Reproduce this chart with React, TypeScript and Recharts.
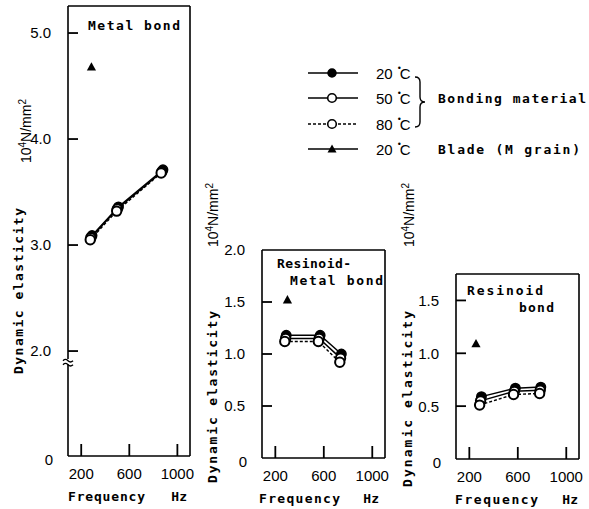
import React from 'react';
import { ComposedChart, Line, XAxis, YAxis, ReferenceLine, ReferenceDot } from 'recharts';

// ---------------- data ----------------
const freqTicks = [200, 600, 1000];

// Metal bond
const mbFreq20 = [290, 510, 880];
const mbFreq50 = [280, 500, 870];
const mbFreq80 = [275, 495, 865];
const mbE20 = [3.09, 3.36, 3.71];
const mbE50 = [3.07, 3.34, 3.69];
const mbE80 = [3.05, 3.32, 3.68];
const mbBladeFreq = [285];
const mbBladeE = [4.68];
const mbYTicks = [0, 2.0, 3.0, 4.0, 5.0];

// Resinoid-Metal bond
const rmFreq20 = [290, 570, 745];
const rmFreq50 = [285, 562, 738];
const rmFreq80 = [278, 555, 732];
const rmE20 = [1.18, 1.18, 1.0];
const rmE50 = [1.15, 1.15, 0.96];
const rmE80 = [1.12, 1.12, 0.92];
const rmBladeFreq = [300];
const rmBladeE = [1.52];
const rmYTicks = [0, 0.5, 1.0, 1.5, 2.0];

// Resinoid bond
const rbFreq20 = [300, 580, 790];
const rbFreq50 = [293, 572, 785];
const rbFreq80 = [285, 565, 780];
const rbE20 = [0.59, 0.67, 0.68];
const rbE50 = [0.55, 0.64, 0.65];
const rbE80 = [0.51, 0.61, 0.62];
const rbBladeFreq = [255];
const rbBladeE = [1.09];
const rbYTicks = [0, 0.5, 1.0, 1.5];

// ---------------- styling ----------------
const MONO = '"DejaVu Sans Mono", monospace';
const SANS = '"Liberation Sans", Arial, sans-serif';
const W = 589;
const H = 509;
const YW = 40;
const XH = 40;
const X_DOMAIN: [number, number] = [90, 1105];
const BREAK_BASE = 1.01; // position of "0" on the broken Metal-bond axis
const Y_TICK_PX = 10;
const X_TICK_PX = 12;

const zip = (fs: number[], vs: number[]) => fs.map((f, i) => ({ f, v: vs[i] }));

const fmtY = (v: number) => (v === 0 ? '0' : v.toFixed(1));

const Triangle = (props: any) => {
  const { cx, cy } = props;
  if (cx == null || cy == null) return <g />;
  return (
    <polygon
      points={`${cx},${cy - 4.8} ${cx - 4.6},${cy + 3.6} ${cx + 4.6},${cy + 3.6}`}
      fill="#000"
      stroke="none"
    />
  );
};

const BreakMark = (props: any) => {
  const { cx, cy } = props;
  if (cx == null || cy == null) return <g />;
  return (
    <g fill="none" stroke="#000" strokeWidth={1.4}>
      <path d={`M${cx - 5},${cy - 1} q2.5,-2.5 5,0 t5,0`} />
      <path d={`M${cx - 5},${cy + 3} q2.5,-2.5 5,0 t5,0`} />
    </g>
  );
};

type PanelCfg = {
  left: number;
  right: number;
  top: number;
  bottom: number;
  yDomain: [number, number];
  yTicks: number[];
  broken: boolean;
  s20: { f: number; v: number }[];
  s50: { f: number; v: number }[];
  s80: { f: number; v: number }[];
  blade: { f: number; v: number }[];
  title: { text: string; x: number; y: number; len: number }[];
  dyn: { x: number; y: number; len: number };
  unit: { x: number; y: number };
  freq: { x: number; len: number; hzEnd: number };
};

const panels: PanelCfg[] = [
  {
    left: 68, right: 190, top: 6, bottom: 456,
    yDomain: [BREAK_BASE, 5.255],
    yTicks: mbYTicks,
    broken: true,
    s20: zip(mbFreq20, mbE20),
    s50: zip(mbFreq50, mbE50),
    s80: zip(mbFreq80, mbE80),
    blade: zip(mbBladeFreq, mbBladeE),
    title: [{ text: 'Metal bond', x: 88, y: 30, len: 92 }],
    dyn: { x: 22.5, y: 291, len: 166 },
    unit: { x: 31, y: 131 },
    freq: { x: 68, len: 77, hzEnd: 187 },
  },
  {
    left: 262, right: 385, top: 250, bottom: 458,
    yDomain: [0, 2.0],
    yTicks: rmYTicks,
    broken: false,
    s20: zip(rmFreq20, rmE20),
    s50: zip(rmFreq50, rmE50),
    s80: zip(rmFreq80, rmE80),
    blade: zip(rmBladeFreq, rmBladeE),
    title: [
      { text: 'Resinoid-', x: 277, y: 268, len: 74 },
      { text: 'Metal bond', x: 290, y: 285, len: 93 },
    ],
    dyn: { x: 216.5, y: 397, len: 172 },
    unit: { x: 218, y: 215 },
    freq: { x: 259, len: 81, hzEnd: 379 },
  },
  {
    left: 456, right: 579, top: 274, bottom: 459,
    yDomain: [0, 1.75],
    yTicks: rbYTicks,
    broken: false,
    s20: zip(rbFreq20, rbE20),
    s50: zip(rbFreq50, rbE50),
    s80: zip(rbFreq80, rbE80),
    blade: zip(rbBladeFreq, rbBladeE),
    title: [
      { text: 'Resinoid', x: 467, y: 295, len: 76 },
      { text: 'bond', x: 519, y: 312, len: 35 },
    ],
    dyn: { x: 411.5, y: 399, len: 176 },
    unit: { x: 414, y: 215 },
    freq: { x: 455, len: 83, hzEnd: 578 },
  },
];

function Panel({ cfg }: { cfg: PanelCfg }) {
  const margin = {
    left: cfg.left - YW,
    right: W - cfg.right,
    top: cfg.top,
    bottom: H - cfg.bottom - XH,
  };
  const [lo, hi] = cfg.yDomain;
  const bx0 = X_DOMAIN[0];
  const bx1 = X_DOMAIN[1];
  const tickPos = cfg.yTicks.map((t) => (cfg.broken && t === 0 ? BREAK_BASE : t));

  const yTick = (props: any) => {
    const { x, y, payload } = props;
    const v = payload.value;
    const isBase = v === lo;
    const label = isBase ? '0' : fmtY(v);
    return (
      <g>
        {!isBase && v < hi && (
          <path d={`M${x},${y} h${Y_TICK_PX}`} stroke="#000" strokeWidth={1.8} fill="none" />
        )}
        <text
          x={isBase ? x - 15 : x - 17}
          y={isBase ? y + 4 : y}
          dy="0.36em"
          textAnchor="end"
          fontFamily={SANS}
          fontSize={15}
          fill="#000"
        >
          {label}
        </text>
      </g>
    );
  };

  const xTick = (props: any) => {
    const { x, y, payload } = props;
    return (
      <g>
        <path d={`M${x},${y} v-${X_TICK_PX}`} stroke="#000" strokeWidth={1.8} fill="none" />
        <text x={x} y={y + 23} textAnchor="middle" fontFamily={SANS} fontSize={15} fill="#000">
          {payload.value}
        </text>
      </g>
    );
  };

  const xLabel = () => (
    <g fontFamily={MONO} fontWeight="bold" fontSize={13} fill="#000">
      <text x={cfg.freq.x} y={cfg.bottom + 45} textLength={cfg.freq.len} lengthAdjust="spacing">
        Frequency
      </text>
      <text x={cfg.freq.hzEnd} y={cfg.bottom + 45} textAnchor="end">
        Hz
      </text>
    </g>
  );

  const yLabel = () => (
    <g fill="#000">
      <text
        x={cfg.dyn.x}
        y={cfg.dyn.y}
        transform={`rotate(-90 ${cfg.dyn.x} ${cfg.dyn.y})`}
        textAnchor="middle"
        fontFamily={MONO}
        fontWeight="bold"
        fontSize={13}
        textLength={cfg.dyn.len}
        lengthAdjust="spacing"
      >
        Dynamic elasticity
      </text>
      <text
        x={cfg.unit.x}
        y={cfg.unit.y}
        transform={`rotate(-90 ${cfg.unit.x} ${cfg.unit.y})`}
        textAnchor="middle"
        fontFamily={SANS}
        fontSize={14}
      >
        10<tspan dy={-5} fontSize={10}>4</tspan>
        <tspan dy={5}>N/mm</tspan>
        <tspan dy={-5} fontSize={10}>2</tspan>
      </text>
    </g>
  );

  return (
    <div style={{ position: 'absolute', left: 0, top: 0 }}>
      <ComposedChart width={W} height={H} margin={margin}>
        <XAxis
          dataKey="f"
          type="number"
          domain={X_DOMAIN}
          ticks={freqTicks}
          interval={0}
          tickSize={0}
          tickMargin={0}
          tickLine={false}
          tick={xTick}
          axisLine={{ stroke: '#000', strokeWidth: 1.6 }}
          height={XH}
          label={xLabel}
        />
        <YAxis
          type="number"
          domain={cfg.yDomain}
          ticks={tickPos}
          interval={0}
          tickSize={0}
          tickMargin={0}
          tickLine={false}
          tick={yTick}
          axisLine={false}
          width={YW}
          label={yLabel}
        />
        <ReferenceLine y={hi} stroke="#000" strokeWidth={1.6} ifOverflow="visible" />
        <ReferenceLine x={bx1} stroke="#000" strokeWidth={1.6} ifOverflow="visible" />
        {cfg.broken ? (
          <ReferenceLine
            segment={[{ x: bx0, y: lo }, { x: bx0, y: 1.875 }]}
            stroke="#000"
            strokeWidth={1.6}
            ifOverflow="visible"
          />
        ) : (
          <ReferenceLine x={bx0} stroke="#000" strokeWidth={1.6} ifOverflow="visible" />
        )}
        {cfg.broken && (
          <ReferenceLine
            segment={[{ x: bx0, y: 1.925 }, { x: bx0, y: hi }]}
            stroke="#000"
            strokeWidth={1.6}
            ifOverflow="visible"
          />
        )}
        {cfg.broken && (
          <ReferenceDot x={bx0} y={1.9} r={0} ifOverflow="visible" shape={BreakMark} />
        )}

        <Line
          data={cfg.s20}
          dataKey="v"
          stroke="#000"
          strokeWidth={1.5}
          isAnimationActive={false}
          dot={{ r: 4.7, fill: '#000', stroke: '#000', strokeWidth: 1.5 }}
        />
        <Line
          data={cfg.s50}
          dataKey="v"
          stroke="#000"
          strokeWidth={1.5}
          isAnimationActive={false}
          dot={{ r: 4.7, fill: '#fff', stroke: '#000', strokeWidth: 2 }}
        />
        <Line
          data={cfg.s80}
          dataKey="v"
          stroke="#000"
          strokeWidth={1.4}
          strokeDasharray="3 2"
          isAnimationActive={false}
          dot={{ r: 4.7, fill: '#fff', stroke: '#000', strokeWidth: 2, strokeDasharray: '' }}
        />
        <Line
          data={cfg.blade}
          dataKey="v"
          stroke="none"
          isAnimationActive={false}
          dot={Triangle}
        />
      </ComposedChart>
    </div>
  );
}

function Overlay() {
  const rows = [73, 98, 124, 149];
  return (
    <svg
      width={W}
      height={H}
      style={{ position: 'absolute', left: 0, top: 0, pointerEvents: 'none' }}
    >
      {panels.map((p, i) =>
        p.title.map((t, j) => (
          <text
            key={`t${i}${j}`}
            x={t.x}
            y={t.y}
            fontFamily={MONO}
            fontWeight="bold"
            fontSize={13}
            textLength={t.len}
            lengthAdjust="spacing"
            fill="#000"
          >
            {t.text}
          </text>
        ))
      )}
      <g stroke="#000" strokeWidth={1.5}>
        <line x1={308} x2={358} y1={rows[0]} y2={rows[0]} />
        <circle cx={332} cy={rows[0]} r={4} fill="#000" />
        <line x1={308} x2={358} y1={rows[1]} y2={rows[1]} />
        <circle cx={332} cy={rows[1]} r={4.3} fill="#fff" strokeWidth={1.6} />
        <line x1={308} x2={358} y1={rows[2]} y2={rows[2]} strokeDasharray="3 2" />
        <circle cx={332} cy={rows[2]} r={4.3} fill="#fff" strokeWidth={1.6} />
        <line x1={308} x2={358} y1={rows[3]} y2={rows[3]} />
      </g>
      <polygon
        points={`332,${rows[3] - 4.5} 327.5,${rows[3] + 3.5} 336.5,${rows[3] + 3.5}`}
        fill="#000"
      />
      {['20', '50', '80', '20'].map((t, i) => (
        <text key={`l${i}`} x={376} y={rows[i] + 5.5} fontFamily={SANS} fontSize={15} fill="#000">
          {t}
          <tspan dx={5} dy={-8} fontSize={9}>•</tspan>
          <tspan dx={-1} dy={8}>C</tspan>
        </text>
      ))}
      <path
        d="M415,77 Q420,77 420,82 L420,97 Q420,102 425,102 Q420,102 420,107 L420,122 Q420,127 415,127"
        fill="none"
        stroke="#000"
        strokeWidth={1.4}
      />
      <text
        x={438}
        y={rows[1] + 5}
        fontFamily={MONO}
        fontWeight="bold"
        fontSize={13}
        textLength={148}
        lengthAdjust="spacing"
        fill="#000"
      >
        Bonding material
      </text>
      <text
        x={438}
        y={rows[3] + 5}
        fontFamily={MONO}
        fontWeight="bold"
        fontSize={13}
        textLength={142}
        lengthAdjust="spacing"
        fill="#000"
      >
        Blade (M grain)
      </text>
    </svg>
  );
}

export default function App() {
  return (
    <div
      style={{
        position: 'absolute',
        left: 0,
        top: 0,
        width: W,
        height: H,
        background: '#fff',
        overflow: 'hidden',
      }}
    >
      {panels.map((p, i) => (
        <Panel key={i} cfg={p} />
      ))}
      <Overlay />
    </div>
  );
}
